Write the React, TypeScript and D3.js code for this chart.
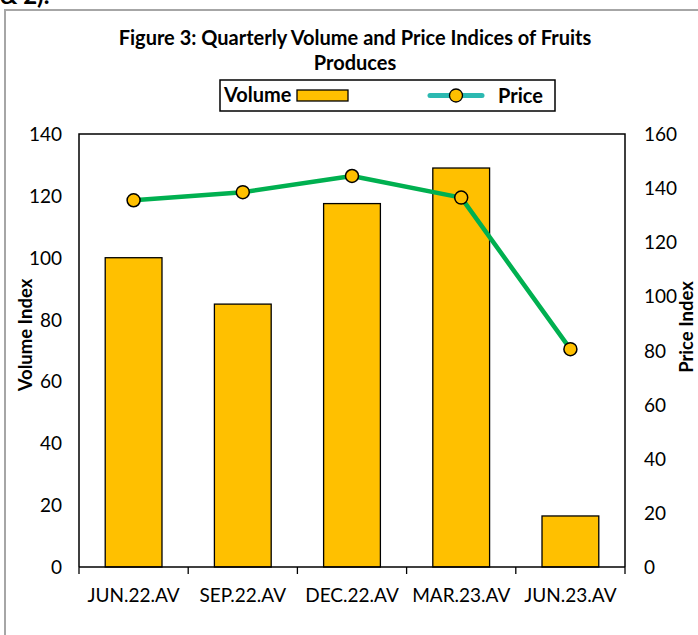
import React from "react";
import * as d3 from "d3";

const categories = ["JUN.22.AV", "SEP.22.AV", "DEC.22.AV", "MAR.23.AV", "JUN.23.AV"];
const volumeValues = [100, 85, 117.5, 129, 16.5];
const priceValues = [135.5, 138.5, 144.5, 136.5, 80.5];
const volumeTicks = [0, 20, 40, 60, 80, 100, 120, 140];
const priceTicks = [0, 20, 40, 60, 80, 100, 120, 140, 160];

const W = 698;
const H = 635;
const FONT = "Lato, 'Open Sans', sans-serif";

export default function App() {
  const left = 79, right = 625, top = 134, bottom = 567;
  const x = d3.scaleBand<string>().domain(categories).range([left, right]).paddingInner(0.48).paddingOuter(0.24);
  const xb = d3.scaleBand<string>().domain(categories).range([left, right]);
  const yV = d3.scaleLinear().domain([0, 140]).range([bottom, top]);
  const yP = d3.scaleLinear().domain([0, 160]).range([bottom, top]);
  const line = d3
    .line<number>()
    .x((_, i) => (xb(categories[i]) as number) + xb.bandwidth() / 2)
    .y((d) => yP(d));

  const boundaries = categories.map((c) => xb(c) as number).concat([right]);

  return (
    <svg width={W} height={H} style={{ position: "absolute", left: 0, top: 0, background: "#fff" }} fontFamily={FONT}>
      <text x={0} y={4} fontSize={24} fontWeight="bold" fill="#000">&amp; 2).</text>
      <rect x={5} y={10} width={W + 20} height={H + 20} fill="none" stroke="#a6a6a6" strokeWidth={2} />

      <text x={355} y={45} textAnchor="middle" fontSize={20} fontWeight="bold" fill="#000">
        Figure 3: Quarterly Volume and Price Indices of Fruits
      </text>
      <text x={355} y={70} textAnchor="middle" fontSize={20} fontWeight="bold" fill="#000">
        Produces
      </text>

      {/* legend */}
      <rect x={220} y={80} width={335} height={31} fill="#fff" stroke="#000" strokeWidth={1.5} />
      <text x={224} y={102} fontSize={20} fontWeight="bold" fill="#000">Volume</text>
      <rect x={297} y={90} width={51} height={11} fill="#ffc000" stroke="#000" strokeWidth={1.3} />
      <line x1={430} x2={482} y1={95.5} y2={95.5} stroke="#2cb9b1" strokeWidth={5} strokeLinecap="round" />
      <circle cx={456} cy={95.5} r={6.5} fill="#ffc000" stroke="#000" strokeWidth={1.3} />
      <text x={498} y={103} fontSize={20} fontWeight="bold" fill="#000">Price</text>

      {/* plot border */}
      <path d={`M${left},${bottom} V${top} H${right} V${bottom}`} fill="none" stroke="#000" strokeWidth={1.5} />

      {/* bars */}
      {categories.map((c, i) => (
        <rect
          key={c}
          x={x(c)}
          y={yV(volumeValues[i])}
          width={x.bandwidth()}
          height={bottom - yV(volumeValues[i])}
          fill="#ffc000"
          stroke="#000"
          strokeWidth={1.3}
        />
      ))}

      {/* x axis */}
      <line x1={left} x2={right} y1={bottom} y2={bottom} stroke="#000" strokeWidth={1.5} />
      {boundaries.map((b, i) => (
        <line key={i} x1={b} x2={b} y1={bottom} y2={bottom + 7} stroke="#000" strokeWidth={1.3} />
      ))}
      {categories.map((c) => (
        <text key={c} x={(xb(c) as number) + xb.bandwidth() / 2} y={602} textAnchor="middle" fontSize={19} fill="#000">
          {c}
        </text>
      ))}

      {/* y axes labels */}
      {volumeTicks.map((t) => (
        <text key={t} x={62} y={yV(t) + 7} textAnchor="end" fontSize={19} fill="#000">
          {t}
        </text>
      ))}
      {priceTicks.map((t) => (
        <text key={t} x={644} y={yP(t) + 7} textAnchor="start" fontSize={19} fill="#000">
          {t}
        </text>
      ))}
      <text transform={`translate(32,335) rotate(-90)`} textAnchor="middle" fontSize={18.5} fontWeight="bold" fill="#000">
        Volume Index
      </text>
      <text transform={`translate(693,327) rotate(-90)`} textAnchor="middle" fontSize={18.5} fontWeight="bold" fill="#000">
        Price Index
      </text>

      {/* price line */}
      <path d={line(priceValues) as string} fill="none" stroke="#00b050" strokeWidth={4.5} strokeLinejoin="round" />
      {priceValues.map((v, i) => (
        <circle
          key={i}
          cx={(xb(categories[i]) as number) + xb.bandwidth() / 2}
          cy={yP(v)}
          r={6.5}
          fill="#ffc000"
          stroke="#000"
          strokeWidth={1.5}
        />
      ))}
    </svg>
  );
}
